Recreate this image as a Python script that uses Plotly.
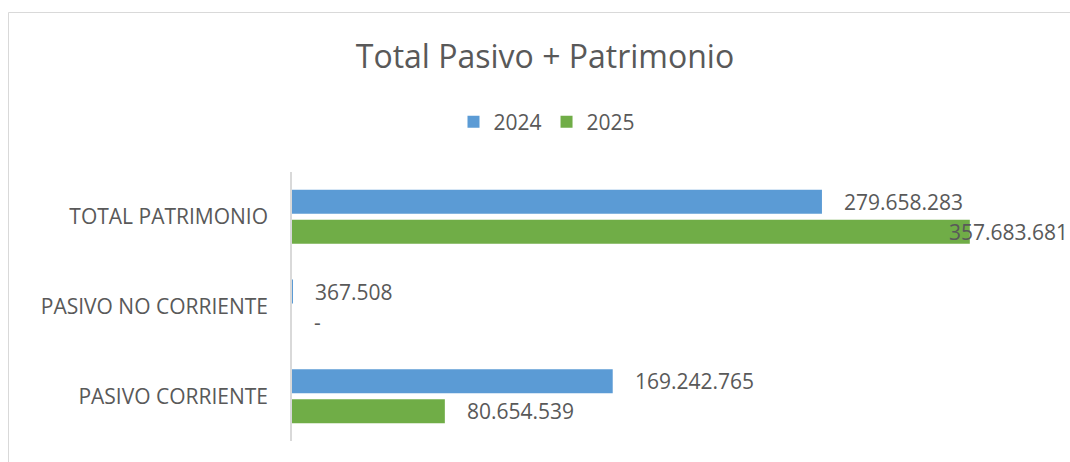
import plotly.graph_objects as go

categories = ["TOTAL PATRIMONIO", "PASIVO NO CORRIENTE", "PASIVO CORRIENTE"]
values_2024 = [279658283, 367508, 169242765]
values_2025 = [357683681, 0, 80654539]
series_names = ["2024", "2025"]
colors = ["#5B9BD5", "#70AD47"]

W, H = 1070, 462
L, R, T, B = 292, 20, 172, 21
FONT = "Open Sans"
GRAY = "#595959"


def fmt(v):
    return "-" if v == 0 else f"{v:,}".replace(",", ".")


fig = go.Figure()
for name, vals, col in zip(series_names, [values_2024, values_2025], colors):
    fig.add_trace(go.Bar(
        y=categories, x=vals, name=name, orientation="h",
        marker=dict(color=col, line=dict(width=0)),
        hoverinfo="skip",
    ))

annotations = []
xmax = 400000000
for i, (name, vals) in enumerate(zip(series_names, [values_2024, values_2025])):
    ysh = 15 if i == 0 else -15
    for c, v in zip(categories, vals):
        xs = 20
        if v > 0.85 * xmax:
            xs = -23
        annotations.append(dict(
            x=v, y=c, xref="x", yref="y", text=fmt(v), showarrow=False,
            xanchor="left", yanchor="middle", xshift=xs, yshift=ysh,
            font=dict(family=FONT, size=21, color=GRAY),
        ))

pw = W - L - R
ph = H - T - B
def px_x(p):
    return (p - L) / pw
def px_y(p):
    return (H - B - p) / ph

fig.update_layout(
    width=W, height=H,
    margin=dict(l=L, r=R, t=T, b=B, pad=0),
    paper_bgcolor="white", plot_bgcolor="white",
    barmode="group", bargap=0.33, bargroupgap=0.2,
    title=dict(text="Total Pasivo + Patrimonio", x=545 / W, xref="container",
               y=1 - 57 / H, yref="container", xanchor="center", yanchor="middle",
               font=dict(family=FONT, size=32, color=GRAY)),
    legend=dict(orientation="h", x=547 / W, xref="container", xanchor="center",
                y=1 - 122 / H, yref="container", yanchor="middle",
                font=dict(family=FONT, size=21, color=GRAY),
                itemwidth=30, traceorder="normal", bgcolor="rgba(0,0,0,0)"),
    xaxis=dict(range=[0, xmax], showgrid=False, showticklabels=False,
               zeroline=False, showline=False, ticks=""),
    yaxis=dict(autorange="reversed", showline=True, linecolor="#D9D9D9", linewidth=1.5,
               ticks="", showgrid=False, ticklabelstandoff=18, layer="above traces",
               tickfont=dict(family=FONT, size=21, color=GRAY)),
    annotations=annotations,
    shapes=[dict(type="rect", xref="paper", yref="paper",
                 x0=px_x(8.5), x1=px_x(1090), y0=px_y(490), y1=px_y(12.5),
                 line=dict(color="#D9D9D9", width=1), fillcolor="rgba(0,0,0,0)",
                 layer="below")],
)

fig.write_html(
    "out.html",
    config={"displayModeBar": False},
    post_script="document.body.style.margin='0';document.body.style.overflow='hidden';",
)
